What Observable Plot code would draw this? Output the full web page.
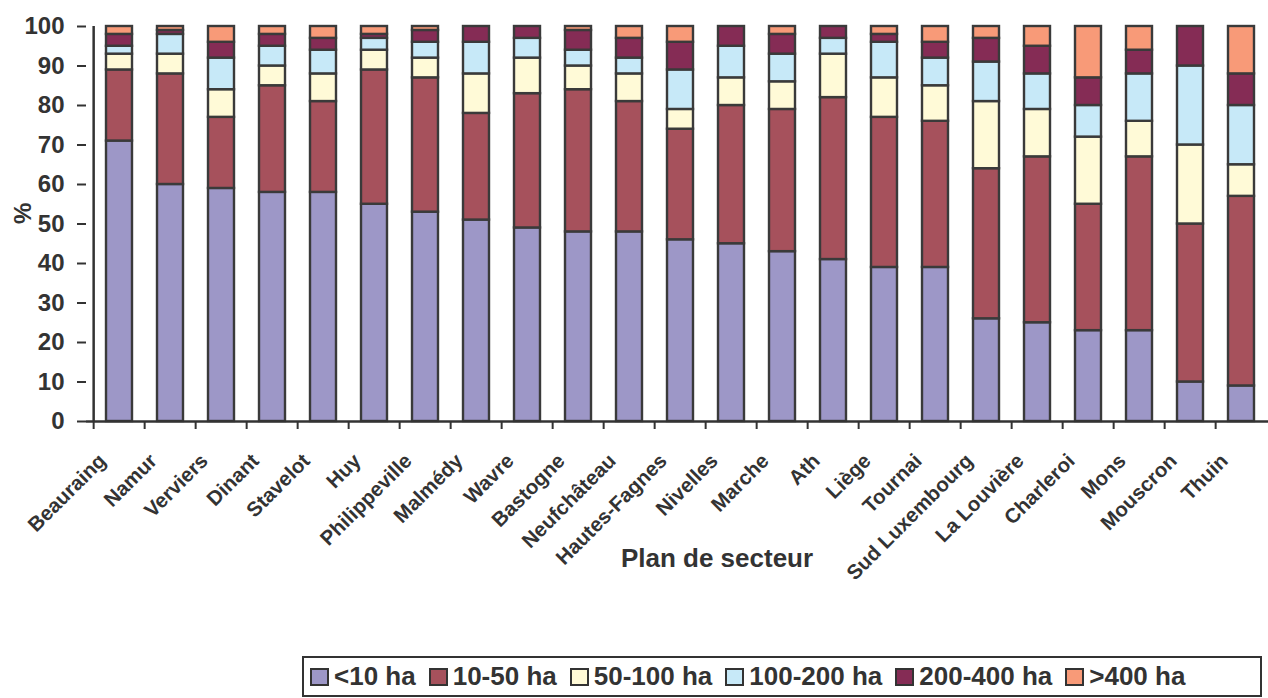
<!DOCTYPE html>
<html>
<head>
<meta charset="utf-8">
<script src="https://cdn.jsdelivr.net/npm/d3@7"></script>
<script src="https://cdn.jsdelivr.net/npm/@observablehq/plot@0.6"></script>
<style>
  html, body { margin: 0; padding: 0; background: #fff; }
  body { width: 1268px; height: 698px; overflow: hidden; position: relative; font-family: "Liberation Sans", Arial, sans-serif; }
  #chart { position: absolute; left: 0; top: 0; }
  #legend { position: absolute; left: 302px; top: 656px; width: 960px; height: 41px; box-sizing: border-box;
    border: 2px solid #333; display: flex; align-items: center; padding-left: 6px; gap: 13px;
    font-weight: bold; font-size: 26px; color: #333; }
  .item { display: flex; align-items: center; }
  .sw { width: 15px; height: 14px; border: 2px solid #333; margin-right: 5px; }
</style>
</head>
<body>
<div id="chart"></div>
<div id="legend"></div>
<script>
const plans = ["Beauraing","Namur","Verviers","Dinant","Stavelot","Huy","Philippeville","Malmédy","Wavre","Bastogne","Neufchâteau","Hautes-Fagnes","Nivelles","Marche","Ath","Liège","Tournai","Sud Luxembourg","La Louvière","Charleroi","Mons","Mouscron","Thuin"];
const classes = ["<10 ha","10-50 ha","50-100 ha","100-200 ha","200-400 ha",">400 ha"];
const lt10    = [71,60,59,58,58,55,53,51,49,48,48,46,45,43,41,39,39,26,25,23,23,10,9];
const c10_50  = [18,28,18,27,23,34,34,27,34,36,33,28,35,36,41,38,37,38,42,32,44,40,48];
const c50_100 = [4,5,7,5,7,5,5,10,9,6,7,5,7,7,11,10,9,17,12,17,9,20,8];
const c100_200= [2,5,8,5,6,3,4,8,5,4,4,10,8,7,4,9,7,10,9,8,12,20,15];
const c200_400= [3,1,4,3,3,1,3,4,3,5,5,7,5,5,3,2,4,6,7,7,6,10,8];
const gt400   = [2,1,4,2,3,2,1,0,0,1,3,4,0,2,0,2,4,3,5,13,6,0,12];
const yTicks = [0,10,20,30,40,50,60,70,80,90,100];
const colors = ["#9D97C7","#A6515C","#FFFAD7","#C7E9F8","#852C55","#F89A78"];
const series = [lt10, c10_50, c50_100, c100_200, c200_400, gt400];

const data = [];
plans.forEach((p, i) => {
  classes.forEach((c, k) => {
    if (series[k][i] > 0) data.push({plan: p, cls: c, value: series[k][i]});
  });
});

const W = 1268, H = 698, mL = 86, mR = -7, mT = 26, mB = 277;
const step = (W - mL - mR) / plans.length;
const ink = "#333";
const font = "Liberation Sans, Arial, sans-serif";

const chart = Plot.plot({
  width: W, height: H,
  marginLeft: mL, marginRight: mR, marginTop: mT, marginBottom: mB,
  style: {fontFamily: font, color: ink, background: "#fff", overflow: "hidden"},
  x: {domain: plans, padding: 0.49, paddingOuter: 0.245, axis: null},
  y: {domain: [0, 100], axis: null},
  color: {domain: classes, range: colors},
  marks: [
    Plot.barY(data, {x: "plan", y: "value", fill: "cls", stroke: "#3a3a3a", strokeWidth: 2.4}),
    Plot.axisY({ticks: yTicks, tickSize: 9, tickPadding: 13, fontSize: 24, fontWeight: "bold", stroke: ink, strokeWidth: 2, fill: ink, label: null}),
    Plot.ruleX([plans[0]], {dx: -step / 2, y1: 0, y2: 100, stroke: ink, strokeWidth: 2.5}),
    Plot.ruleY([0], {stroke: ink, strokeWidth: 2.5}),
    Plot.axisX({text: null, tickSize: 8, dx: -step / 2, stroke: ink, strokeWidth: 2, label: null}),
    Plot.text(plans, {x: d => d, frameAnchor: "bottom", text: d => d, rotate: -45, textAnchor: "end", lineAnchor: "middle",
      dx: -17, dy: 36, fontSize: 20.5, fontWeight: "bold", fill: ink}),
    Plot.text(["Plan de secteur"], {frameAnchor: "bottom", text: d => d, dx: 36, dy: 145, fontSize: 26, fontWeight: "bold", fill: ink}),
    Plot.text(["%"], {frameAnchor: "left", text: d => d, rotate: -90, dx: -63, fontSize: 24, fontWeight: "bold", fill: ink})
  ]
});
document.getElementById("chart").appendChild(chart);

const legend = document.getElementById("legend");
classes.forEach((c, k) => {
  const it = document.createElement("div");
  it.className = "item";
  const sw = document.createElement("div");
  sw.className = "sw";
  sw.style.background = colors[k];
  const t = document.createElement("span");
  t.textContent = c;
  it.appendChild(sw); it.appendChild(t);
  legend.appendChild(it);
});
</script>
</body>
</html>
